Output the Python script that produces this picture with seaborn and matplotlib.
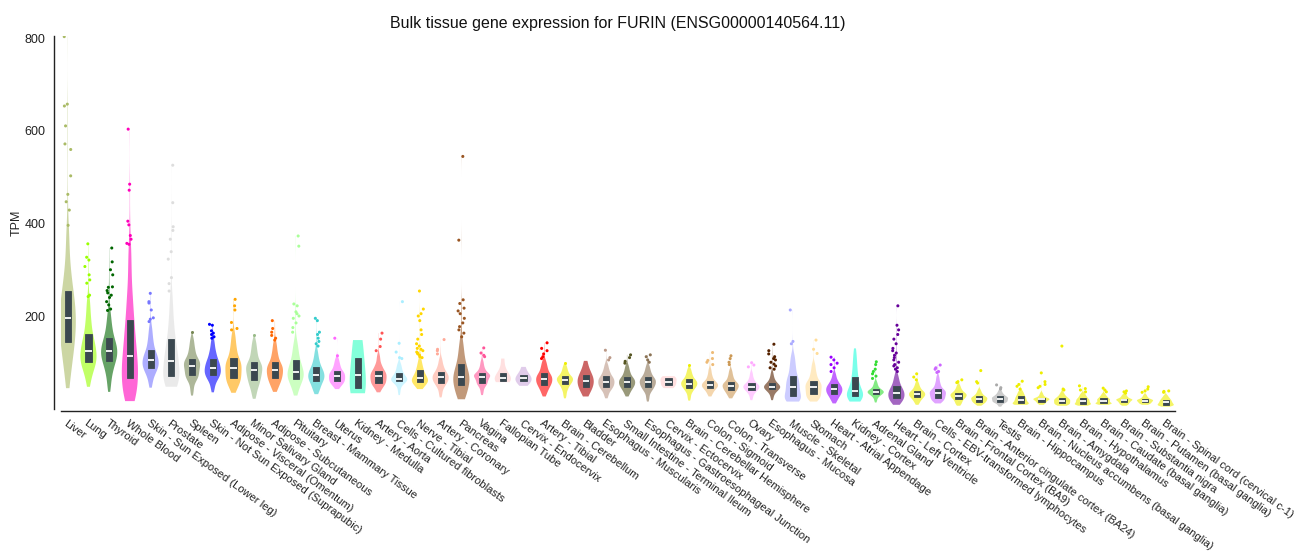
import numpy as np
import pandas as pd
import matplotlib
matplotlib.use("Agg")
import matplotlib.pyplot as plt
import seaborn as sns

TISSUES = [
    "Liver", "Lung", "Thyroid", "Whole Blood", "Skin - Sun Exposed (Lower leg)",
    "Prostate", "Spleen", "Skin - Not Sun Exposed (Suprapubic)",
    "Adipose - Visceral (Omentum)", "Minor Salivary Gland", "Adipose - Subcutaneous",
    "Pituitary", "Breast - Mammary Tissue", "Uterus", "Kidney - Medulla",
    "Artery - Aorta", "Cells - Cultured fibroblasts", "Nerve - Tibial",
    "Artery - Coronary", "Pancreas", "Vagina", "Fallopian Tube", "Cervix - Endocervix",
    "Artery - Tibial", "Brain - Cerebellum", "Bladder", "Esophagus - Muscularis",
    "Small Intestine - Terminal Ileum", "Esophagus - Gastroesophageal Junction",
    "Cervix - Ectocervix", "Brain - Cerebellar Hemisphere", "Colon - Sigmoid",
    "Colon - Transverse", "Ovary", "Esophagus - Mucosa", "Muscle - Skeletal", "Stomach",
    "Heart - Atrial Appendage", "Kidney - Cortex", "Adrenal Gland",
    "Heart - Left Ventricle", "Brain - Cortex", "Cells - EBV-transformed lymphocytes",
    "Brain - Frontal Cortex (BA9)", "Brain - Anterior cingulate cortex (BA24)", "Testis",
    "Brain - Hippocampus", "Brain - Nucleus accumbens (basal ganglia)", "Brain - Amygdala",
    "Brain - Hypothalamus", "Brain - Caudate (basal ganglia)", "Brain - Substantia nigra",
    "Brain - Putamen (basal ganglia)", "Brain - Spinal cord (cervical c-1)",
]

COLORS = [
    "#AABB66", "#99FF00", "#006600", "#FF00BB", "#7777FF",
    "#DDDDDD", "#778855", "#0000FF",
    "#FFA500", "#99BB88", "#FF6600",
    "#AAFF99", "#33CCCC", "#FF66FF", "#33FFC2",
    "#FF5555", "#AAEEFF", "#FFD700",
    "#FFAA99", "#995522", "#FF5599", "#FFCCCC", "#CCAADD",
    "#FF0000", "#EEEE00", "#AA0000", "#BB9988",
    "#555522", "#8B7355",
    "#FFCCCC", "#EEEE00", "#EEBB77",
    "#CC9955", "#FFAAFF", "#552200", "#AAAAFF", "#FFDD99",
    "#9900FF", "#22FFDD", "#33DD33",
    "#660099", "#EEEE00", "#CC66FF",
    "#EEEE00", "#EEEE00", "#AAAAAA",
    "#EEEE00", "#EEEE00", "#EEEE00",
    "#EEEE00", "#EEEE00", "#EEEE00",
    "#EEEE00", "#EEEE00",
]

# TPM read at cumulative fractions 0, .10, .25, .50, .75, .90, 1 of the violin body
QUANTILE_LEVELS = [0.0, 0.10, 0.25, 0.50, 0.75, 0.90, 1.0]
BODY_QUANTILES = [
    (44, 100, 142, 193, 243, 300, 395),
    (47, 80, 99, 123, 155, 195, 240),
    (36, 75, 101, 123, 146, 175, 210),
    (16, 28, 64, 110, 180, 250, 350),
    (45, 72, 87, 103, 123, 150, 180),
    (47, 50, 70, 101, 142, 190, 250),
    (28, 60, 72, 92, 107, 130, 155),
    (35, 60, 72, 87, 105, 125, 150),
    (34, 52, 65, 87, 107, 135, 165),
    (21, 45, 62, 83, 100, 125, 150),
    (36, 52, 65, 82, 98, 120, 145),
    (28, 48, 64, 78, 100, 125, 150),
    (31, 45, 59, 72, 87, 105, 128),
    (42, 52, 59, 70, 81, 95, 110),
    (33, 35, 38, 70, 108, 135, 148),
    (35, 48, 56, 69, 81, 95, 118),
    (29, 50, 59, 64, 75, 88, 100),
    (42, 50, 58, 63, 78, 92, 108),
    (24, 45, 56, 67, 78, 92, 110),
    (20, 28, 49, 67, 90, 120, 150),
    (29, 48, 56, 69, 75, 88, 105),
    (57, 58, 60, 67, 76, 90, 108),
    (49, 54, 59, 65, 72, 80, 90),
    (26, 40, 51, 63, 75, 90, 105),
    (22, 40, 52, 62, 70, 82, 95),
    (26, 38, 47, 60, 72, 85, 103),
    (22, 38, 47, 58, 69, 82, 98),
    (26, 38, 47, 57, 67, 80, 95),
    (15, 36, 46, 57, 67, 80, 95),
    (44, 47, 51, 58, 65, 68, 70),
    (17, 35, 45, 54, 63, 75, 88),
    (26, 36, 44, 51, 59, 72, 88),
    (22, 32, 40, 49, 57, 70, 85),
    (18, 32, 40, 47, 54, 65, 80),
    (18, 33, 41, 47, 54, 65, 80),
    (15, 17, 26, 47, 69, 95, 120),
    (15, 22, 31, 46, 59, 78, 100),
    (11, 22, 31, 41, 51, 62, 78),
    (15, 20, 27, 38, 69, 100, 130),
    (13, 25, 31, 36, 41, 50, 60),
    (8, 15, 22, 33, 44, 60, 75),
    (8, 17, 24, 31, 38, 47, 58),
    (11, 17, 23, 33, 41, 55, 72),
    (6, 13, 21, 28, 34, 42, 52),
    (6, 11, 15, 21, 26, 33, 42),
    (4, 12, 15, 21, 26, 32, 40),
    (8, 9, 11, 18, 26, 33, 40),
    (8, 11, 15, 20, 22, 28, 35),
    (6, 8, 11, 17, 22, 28, 36),
    (6, 8, 10, 16, 22, 28, 34),
    (8, 10, 11, 17, 22, 27, 33),
    (6, 9, 13, 18, 21, 26, 31),
    (8, 10, 13, 17, 20, 25, 31),
    (4, 6, 8, 13, 19, 24, 30),
]

OUTLIERS = [
    [396, 429, 447, 463, 503, 560, 572, 611, 654, 658, 804],
    [242, 245, 271, 278, 289, 307, 321, 327, 356],
    [212, 215, 224, 231, 240, 245, 250, 255, 262, 263, 289, 300, 317, 347],
    [355, 357, 366, 374, 397, 405, 472, 485, 604],
    [188, 193, 196, 213, 228, 231, 249],
    [254, 270, 283, 323, 339, 366, 385, 393, 445, 526],
    [166],
    [152, 155, 160, 163, 168, 180, 182],
    [170, 173, 186, 213, 222, 236],
    [160],
    [148, 152, 158, 165, 173, 190],
    [165, 175, 185, 195, 200, 205, 209, 222, 226, 351, 373],
    [135, 140, 145, 152, 160, 165, 190, 195],
    [114, 152],
    [],
    [125, 134, 150, 163],
    [108, 110, 122, 141, 231],
    [110, 112, 115, 118, 120, 122, 125, 128, 130, 135, 140, 150, 160, 170, 190, 200, 205, 215, 254],
    [118, 125, 128, 149],
    [155, 163, 170, 177, 185, 195, 205, 211, 217, 227, 235, 364, 545],
    [112, 115, 120, 131],
    [],
    [],
    [108, 112, 118, 125, 130, 142],
    [99],
    [],
    [105, 110, 126],
    [98, 102, 110, 116],
    [100, 105, 112, 116],
    [],
    [94],
    [95, 100, 104, 108, 121],
    [95, 100, 108, 114],
    [90, 94, 99],
    [85, 88, 92, 96, 100, 105, 108, 112, 118, 125, 139],
    [140, 145, 213],
    [119, 128, 148],
    [80, 88, 95, 98, 105, 111],
    [],
    [65, 70, 75, 80, 85, 95, 101],
    [80, 85, 88, 92, 95, 100, 105, 110, 115, 120, 125, 130, 140, 150, 160, 170, 180, 222],
    [62, 68, 75],
    [78, 80, 85, 88, 94],
    [56, 58, 62],
    [55, 58, 82],
    [42, 45, 51],
    [42, 48, 52, 59],
    [45, 48, 52, 58, 77],
    [40, 42, 135],
    [36, 40, 43, 49],
    [36, 40, 44],
    [33, 36, 38],
    [35, 38, 42, 47],
    [35, 37, 38],
]

# number of samples per tissue (small cohorts listed, others default)
SMALL_COHORTS = {"Kidney - Medulla": 4, "Fallopian Tube": 9, "Cervix - Ectocervix": 9,
                 "Cervix - Endocervix": 10, "Bladder": 21, "Kidney - Cortex": 85}
DEFAULT_N = 300

TITLE = "Bulk tissue gene expression for FURIN (ENSG00000140564.11)"
YLABEL = "TPM"
YTICKS = [200, 400, 600, 800]

# ---- build long-form table ----
rows = []
out_rows = []
for t, q, outs in zip(TISSUES, BODY_QUANTILES, OUTLIERS):
    n = SMALL_COHORTS.get(t, DEFAULT_N)
    body = np.interp(np.linspace(0, 1, n), QUANTILE_LEVELS, q)
    for v in body:
        rows.append((t, v))
    for v in outs:
        rows.append((t, v))
        out_rows.append((t, v))
df = pd.DataFrame(rows, columns=["tissue", "tpm"])
df_out = pd.DataFrame(out_rows, columns=["tissue", "tpm"])
palette = dict(zip(TISSUES, COLORS))

sns.set_theme(style="white")
plt.rcParams["font.family"] = ["Liberation Sans", "DejaVu Sans"]

fig = plt.figure(figsize=(13.09, 5.51), dpi=100)
ax = fig.add_axes([0.04637, 0.2586, 0.8513, 0.6766])

sns.violinplot(data=df, x="tissue", y="tpm", hue="tissue", order=TISSUES,
               hue_order=TISSUES, palette=palette, legend=False, cut=0,
               density_norm="width", width=0.78, inner=None, linewidth=0,
               saturation=1, ax=ax)
for c in ax.collections:
    c.set_alpha(0.6)
    c.set_edgecolor("none")

BOX = "#3b4850"
sns.boxplot(data=df, x="tissue", y="tpm", order=TISSUES, width=0.3, color=BOX,
            linecolor=BOX, linewidth=0.6, saturation=1, showfliers=False,
            showcaps=False, whis=0, whiskerprops={"linewidth": 0},
            medianprops={"color": "white", "linewidth": 1.3}, ax=ax)

np.random.seed(3)
sns.stripplot(data=df_out, x="tissue", y="tpm", hue="tissue", order=TISSUES,
              hue_order=TISSUES, palette=palette, legend=False, jitter=0.18,
              size=2.2, linewidth=0, ax=ax)

ax.set_xlim(-0.34, 53.45)
ax.set_ylim(0, 806)
ax.set_yticks(YTICKS)
ax.set_yticklabels([str(v) for v in YTICKS])
ax.set_yticks([0, 806], minor=True)
ax.set_xticks([-0.34, 53.45], minor=True)
ax.set_xticks(range(len(TISSUES)))
ax.set_xticklabels(TISSUES)
ax.set_xlabel("")
ax.set_ylabel("")

for s in ["top", "right"]:
    ax.spines[s].set_visible(False)
ax.spines["left"].set_position(("outward", 4.8))
ax.spines["bottom"].set_position(("outward", 1.5))
for s in ["left", "bottom"]:
    ax.spines[s].set_color("#222222")
    ax.spines[s].set_linewidth(1.0)
ax.tick_params(axis="both", which="both", direction="out", length=4,
               width=1.0, color="#222222", pad=2, labelcolor="#222222")
ax.tick_params(axis="y", labelsize=9)
ax.tick_params(axis="x", which="major", pad=1.5, labelsize=8.0, labelrotation=-36)
for lab in ax.get_xticklabels():
    lab.set_horizontalalignment("left")
    lab.set_verticalalignment("top")
    lab.set_rotation_mode("anchor")

fig.text(17 / 1309, 1 - 223 / 551, YLABEL, rotation=90, ha="center", va="center",
         fontsize=9, color="#222222")
fig.text(0.472, 0.958, TITLE, ha="center", va="center", fontsize=11.5, color="#111111")

fig.savefig("out.png", dpi=100)
